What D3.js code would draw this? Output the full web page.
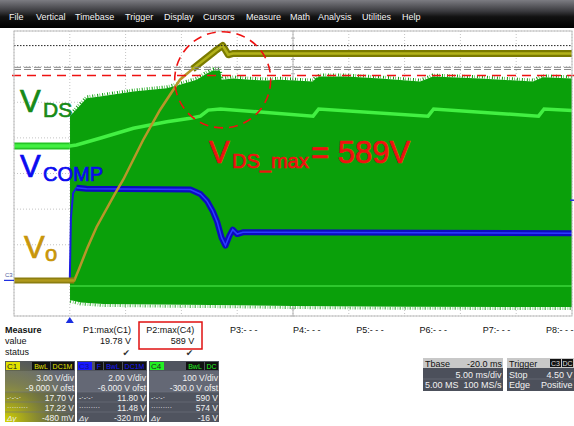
<!DOCTYPE html>
<html>
<head>
<meta charset="utf-8">
<script src="https://cdn.jsdelivr.net/npm/d3@7"></script>
<style>
  body { margin: 0; background: #fff; }
  svg { display: block; font-family: "Liberation Sans", Arial, sans-serif; }
</style>
</head>
<body>
<div id="vis"></div>
<script>
// Scope capture: V_DS (C4), V_COMP (C3), V_o (C1) at start-up

const WIDTH = 574;
const HEIGHT = 426;
const PLOT = {left: 14, right: 572, top: 31, bottom: 316};

// menu bar
const MENU_ITEMS = ["File", "Vertical", "Timebase", "Trigger", "Display", "Cursors",
                    "Measure", "Math", "Analysis", "Utilities", "Help"];
const MENU_X = [9, 36, 75, 125, 164, 203, 246, 290, 318, 362, 402];

// time axis: 5 ms/div, Tbase -20 ms -> screen from -5 ms to 45 ms
const T_DOMAIN = [-5, 45];
const T_GRID = [-5, 0, 5, 10, 15, 20, 25, 30, 35, 40, 45];
const DIV_GRID = [-4, -3, -2, -1, 0, 1, 2, 3, 4];

// channel settings (V/div, offset)
const C1_SET = {vdiv: 3, ofst: -9};
const C3_SET = {vdiv: 2, ofst: -6};
const C4_SET = {vdiv: 100, ofst: -300};

// C1 = V_o  [ms, V]
const C1_TRACE = [[-5, 0], [0.4, 0], [0.8, 0.9], [1.6, 2.8], [2.4, 4.5], [4.05, 7.3],
  [4.8, 8.5], [6.56, 11.8], [8.08, 14.35], [9.87, 16.9], [11.0, 17.8], [11.67, 18.3],
  [13.0, 19.3], [13.7, 19.78], [14.2, 19.0], [14.6, 19.1], [45, 19.1]];

// C3 = V_COMP  [ms, V]
const C3_TRACE = [[-5, 0], [0.0, 0], [0.1, 3.5], [0.3, 4.9], [0.6, 5.2], [1.5, 5.15],
  [10.8, 5.1], [11.7, 4.85], [12.3, 4.45], [12.8, 3.9], [13.2, 3.3], [13.6, 2.4],
  [13.95, 1.95], [14.3, 2.5], [14.6, 2.85], [15.0, 2.6], [15.5, 2.7], [45, 2.65]];

// C4 = V_DS  [ms, V]: envelope of switching waveform + persistence lines
const C4_TOP = [[0.02, 461], [1.51, 511], [2.71, 516], [5.69, 530], [8.68, 539],
  [9.87, 549], [11.37, 563], [12.27, 581], [12.83, 589], [13.46, 589], [13.61, 563],
  [14.65, 567], [16.15, 563], [17.64, 561], [18.84, 563], [21.79, 558], [22.06, 568],
  [22.42, 572], [24.81, 572], [27.8, 567], [31.38, 558], [31.98, 565], [32.54, 572],
  [36.76, 567], [41.51, 558], [42.4, 570], [45, 567]];
const C4_BOTTOM = [[0.02, -55], [1, -62], [3, -66], [8, -68], [15, -70], [20, -72],
  [30, -74], [45, -75]];
const C4_MEAN = [[-5, 377], [0, 377], [0.6, 380], [2.7, 399], [5.7, 427], [8.7, 445],
  [10.8, 455], [11.7, 461], [12.4, 478], [13.5, 481], [21.8, 461], [22.3, 481],
  [32.1, 461], [32.6, 481], [42.0, 461], [42.5, 481], [45, 477]];
const C4_LOW = [[0.02, -16], [45, -16]];

// horizontal cursor / marker lines, in divisions
const CURSOR_DOTTED = [3.59];
const CURSOR_GRAY = [2.98, 2.92];
const CURSOR_RED = [2.75];

// measurement table
const PARAM_NAMES = ["P1:max(C1)", "P2:max(C4)", "P3:- - -", "P4:- - -",
                     "P5:- - -", "P6:- - -", "P7:- - -", "P8:- - -"];
const PARAM_VALUES = ["19.78 V", "589 V", "", "", "", "", "", ""];
const PARAM_STATUS = ["\u2714", "\u2714", "", "", "", "", "", ""];

// channel descriptor boxes
const CHANNELS = [
  {name: "C1", color: "#e2e200", tags: ["BwL", "DC1M"],
   rows: ["3.00 V/div", "-9.000 V ofst", "17.70 V", "17.22 V", "-480 mV"]},
  {name: "C3", color: "#1818ff", tags: ["F", "BwL", "DC1M"],
   rows: ["2.00 V/div", "-6.000 V ofst", "11.80 V", "11.48 V", "-320 mV"]},
  {name: "C4", color: "#22f022", tags: ["BwL", "DC"],
   rows: ["100 V/div", "-300.0 V ofst", "590 V", "574 V", "-16 V"]}
];

// ---------------------------------------------------------------
const SVG = d3.select("#vis")
              .append("svg")
                .attr("width", WIDTH)
                .attr("height", HEIGHT);

const defs = SVG.append("defs");

const X_SCALE = d3.scaleLinear().domain(T_DOMAIN).range([PLOT.left, PLOT.right]);
const Y_SCALE = d3.scaleLinear().domain([-4, 4]).range([PLOT.bottom, PLOT.top]);

// channel volts -> screen
function chY(set) {
  return (v) => Y_SCALE((v + set.ofst) / set.vdiv);
}
const Y_C1 = chY(C1_SET), Y_C3 = chY(C3_SET), Y_C4 = chY(C4_SET);

function lineFor(yf) {
  return d3.line().x((d) => X_SCALE(d[0])).y((d) => yf(d[1]));
}

// ---- menu bar
const mg = defs.append("linearGradient").attr("id", "menuGrad")
  .attr("x1", 0).attr("y1", 0).attr("x2", 0).attr("y2", 1);
mg.append("stop").attr("offset", "0%").attr("stop-color", "#7c7c82");
mg.append("stop").attr("offset", "40%").attr("stop-color", "#3a3a3e");
mg.append("stop").attr("offset", "60%").attr("stop-color", "#121212");
mg.append("stop").attr("offset", "100%").attr("stop-color", "#000");

SVG.append("rect").attr("x", 0).attr("y", 0).attr("width", WIDTH).attr("height", 28)
   .attr("fill", "url(#menuGrad)");

SVG.selectAll(".menu")
   .data(MENU_ITEMS)
   .enter()
   .append("text")
     .attr("x", (d, i) => MENU_X[i])
     .attr("y", 20)
     .attr("fill", "#f4f4f4")
     .attr("font-size", "9px")
     .text((d) => d);

// ---- plot area
defs.append("clipPath").attr("id", "plotClip")
    .append("rect")
      .attr("x", PLOT.left).attr("y", PLOT.top)
      .attr("width", PLOT.right - PLOT.left).attr("height", PLOT.bottom - PLOT.top);

const GRID = SVG.append("g");
GRID.selectAll(".vgrid")
    .data(T_GRID)
    .enter()
    .append("line")
      .attr("x1", (d) => X_SCALE(d)).attr("x2", (d) => X_SCALE(d))
      .attr("y1", PLOT.top).attr("y2", PLOT.bottom)
      .attr("stroke", "#c4c4c4")
      .attr("stroke-dasharray", "1,2");
GRID.selectAll(".hgrid")
    .data(DIV_GRID)
    .enter()
    .append("line")
      .attr("x1", PLOT.left).attr("x2", PLOT.right)
      .attr("y1", (d) => Y_SCALE(d)).attr("y2", (d) => Y_SCALE(d))
      .attr("stroke", "#c4c4c4")
      .attr("stroke-dasharray", "1,2");

// centre axes with minor ticks
const CX = X_SCALE(20);
GRID.append("line").attr("x1", CX).attr("x2", CX).attr("y1", PLOT.top).attr("y2", PLOT.bottom)
    .attr("stroke", "#b4b4b4");
GRID.selectAll(".ytick")
    .data(d3.range(-4, 4.01, 0.2))
    .enter()
    .append("line")
      .attr("x1", CX - 2).attr("x2", CX + 2)
      .attr("y1", (d) => Y_SCALE(d)).attr("y2", (d) => Y_SCALE(d))
      .attr("stroke", "#b4b4b4");

const PLOTG = SVG.append("g").attr("clip-path", "url(#plotClip)");

// ---- C4 switching envelope
const envPts = C4_TOP.concat(C4_BOTTOM.slice().reverse());
PLOTG.append("path")
     .attr("d", lineFor(Y_C4)(envPts) + "Z")
     .attr("fill", "#0aa00a");

// ragged edges of the envelope
PLOTG.append("path")
     .attr("d", lineFor((v) => Y_C4(v) - 1.5)(C4_TOP))
     .attr("fill", "none")
     .attr("stroke", "#0aa00a")
     .attr("stroke-width", 3)
     .attr("stroke-dasharray", "1,1.5,0.5,2");
PLOTG.append("path")
     .attr("d", lineFor((v) => Y_C4(v) + 1.5)(C4_BOTTOM))
     .attr("fill", "none")
     .attr("stroke", "#2aac2a")
     .attr("stroke-width", 3)
     .attr("stroke-dasharray", "1,2,0.5,1.5");

PLOTG.append("path")
     .attr("d", lineFor(Y_C4)(C4_LOW))
     .attr("fill", "none")
     .attr("stroke", "#2ec82e")
     .attr("stroke-width", 2);

PLOTG.append("path")
     .attr("d", lineFor(Y_C4)(C4_MEAN.filter((d) => d[0] <= 0)))
     .attr("fill", "none")
     .attr("stroke", "#26c426")
     .attr("stroke-width", 7);
PLOTG.append("path")
     .attr("d", lineFor(Y_C4)(C4_MEAN))
     .attr("fill", "none")
     .attr("stroke", "#42f042")
     .attr("stroke-width", 3.5);

// ---- C3 trace
PLOTG.append("path")
     .attr("d", lineFor(Y_C3)(C3_TRACE))
     .attr("fill", "none")
     .attr("stroke", "#1a1ae0")
     .attr("stroke-width", 2);
PLOTG.append("path")
     .attr("d", lineFor(Y_C3)(C3_TRACE.filter((d) => d[0] >= 0.5)))
     .attr("fill", "none")
     .attr("stroke", "#0c0cc0")
     .attr("stroke-width", 6)
     .attr("stroke-linejoin", "round");
PLOTG.append("path")
     .attr("d", lineFor(Y_C3)(C3_TRACE.filter((d) => d[0] >= 0.5)))
     .attr("fill", "none")
     .attr("stroke", "#2c3cff")
     .attr("stroke-width", 1.5);

// ---- C1 trace
PLOTG.append("path")
     .attr("d", lineFor(Y_C1)(C1_TRACE))
     .attr("fill", "none")
     .attr("stroke", "#b8962a")
     .attr("stroke-width", 2.5);
[C1_TRACE.filter((d) => d[0] <= 0.4), C1_TRACE.filter((d) => d[0] >= 11)].forEach((seg, i) => {
  PLOTG.append("path")
       .attr("d", lineFor(Y_C1)(seg))
       .attr("fill", "none")
       .attr("stroke", i == 0 ? "#8c7e10" : "#7a7a00")
       .attr("stroke-width", i == 0 ? 6 : 7)
       .attr("stroke-linejoin", "round");
  PLOTG.append("path")
       .attr("d", lineFor(Y_C1)(seg))
       .attr("fill", "none")
       .attr("stroke", i == 0 ? "#b09a1c" : "#b2b21a")
       .attr("stroke-width", 2.5);
});

// ---- cursor lines
SVG.selectAll(".cdot")
   .data(CURSOR_DOTTED)
   .enter()
   .append("line")
     .attr("x1", PLOT.left).attr("x2", PLOT.right)
     .attr("y1", (d) => Y_SCALE(d)).attr("y2", (d) => Y_SCALE(d))
     .attr("stroke", "#222")
     .attr("stroke-dasharray", "1.5,1.5");
SVG.selectAll(".cgray")
   .data(CURSOR_GRAY)
   .enter()
   .append("line")
     .attr("x1", PLOT.left).attr("x2", PLOT.right)
     .attr("y1", (d) => Y_SCALE(d)).attr("y2", (d) => Y_SCALE(d))
     .attr("stroke", "#888")
     .attr("stroke-dasharray", "7,3");
SVG.selectAll(".cred")
   .data(CURSOR_RED)
   .enter()
   .append("line")
     .attr("x1", PLOT.left - 2).attr("x2", WIDTH)
     .attr("y1", (d) => Y_SCALE(d)).attr("y2", (d) => Y_SCALE(d))
     .attr("stroke", "#ee1111")
     .attr("stroke-width", 1.5)
     .attr("stroke-dasharray", "9,6");

// plot border
SVG.append("rect")
   .attr("x", PLOT.left).attr("y", PLOT.top)
   .attr("width", PLOT.right - PLOT.left).attr("height", PLOT.bottom - PLOT.top)
   .attr("fill", "none")
   .attr("stroke", "#bdbdbd");

// trigger marker, trigger level and C3 ground marker
const TX = X_SCALE(0);
SVG.append("path")
   .attr("d", `M${TX},${PLOT.bottom + 1} L${TX - 4},${PLOT.bottom + 7} L${TX + 4},${PLOT.bottom + 7}Z`)
   .attr("fill", "#1a2ee0");
SVG.append("line")
   .attr("x1", PLOT.right - 2).attr("x2", WIDTH)
   .attr("y1", Y_C3(4.5)).attr("y2", Y_C3(4.5))
   .attr("stroke", "#2030e0").attr("stroke-width", 1.5);
SVG.append("text")
   .attr("x", 5).attr("y", Y_C3(0) - 3)
   .attr("font-size", "6px").attr("fill", "#5060a0")
   .text("C3");
SVG.append("line")
   .attr("x1", 4).attr("x2", PLOT.left)
   .attr("y1", Y_C3(0)).attr("y2", Y_C3(0))
   .attr("stroke", "#2030e0").attr("stroke-width", 1.2);

// ---- annotation circle around the V_DS peak
SVG.append("ellipse")
   .attr("cx", X_SCALE(13.7)).attr("cy", Y_SCALE(2.63))
   .attr("rx", X_SCALE(13.7 + 4.3) - X_SCALE(13.7))
   .attr("ry", Y_SCALE(0) - Y_SCALE(1.35))
   .attr("fill", "none")
   .attr("stroke", "#ee1111")
   .attr("stroke-width", 1.6)
   .attr("stroke-dasharray", "9,6");

// ---- signal labels (slightly heavier than regular weight)
function label(x, y, size, color, txt) {
  SVG.append("text").attr("x", x).attr("y", y)
     .attr("font-size", size + "px").attr("fill", color)
     .attr("stroke", color).attr("stroke-width", 0.7)
     .text(txt);
}
label(20, 112, 31, "#178a17", "V");
label(43, 117, 21, "#178a17", "DS");
label(20, 177, 31, "#0a0af0", "V");
label(43, 181, 20, "#0a0af0", "COMP");
label(24, 258, 31, "#c8960a", "V");
label(45, 261, 22, "#c8960a", "o");
label(209, 163, 31, "#f01010", "V");
label(232, 168, 20, "#f01010", "DS_max");
label(311, 163, 31, "#f01010", "= 589V");

// ---- measure table
SVG.append("text").attr("x", 5).attr("y", 333).attr("font-size", "9px")
   .attr("font-weight", "bold").attr("fill", "#111").text("Measure");
SVG.append("text").attr("x", 5).attr("y", 344).attr("font-size", "9px")
   .attr("fill", "#111").text("value");
SVG.append("text").attr("x", 5).attr("y", 355).attr("font-size", "9px")
   .attr("fill", "#111").text("status");

const COL_RIGHT = (i) => 131 + i * 63.2;
SVG.selectAll(".pname")
   .data(PARAM_NAMES)
   .enter()
   .append("text")
     .attr("x", (d, i) => COL_RIGHT(i)).attr("y", 333)
     .attr("text-anchor", "end").attr("font-size", "9px").attr("fill", "#111")
     .text((d) => d);
SVG.selectAll(".pval")
   .data(PARAM_VALUES)
   .enter()
   .append("text")
     .attr("x", (d, i) => COL_RIGHT(i)).attr("y", 344)
     .attr("text-anchor", "end").attr("font-size", "9px").attr("fill", "#111")
     .text((d) => d);
SVG.selectAll(".pstat")
   .data(PARAM_STATUS)
   .enter()
   .append("text")
     .attr("x", (d, i) => COL_RIGHT(i) - 1).attr("y", 356)
     .attr("text-anchor", "end").attr("font-size", "9px").attr("fill", "#333")
     .attr("font-family", "DejaVu Sans")
     .text((d) => d);
SVG.append("rect")
   .attr("x", 139).attr("y", 322).attr("width", 63).attr("height", 27)
   .attr("fill", "none").attr("stroke", "#e01010").attr("stroke-width", 1.5);

// ---- channel descriptor boxes
const yg = defs.append("radialGradient").attr("id", "c1Glow")
  .attr("cx", "0%").attr("cy", "100%").attr("r", "110%");
yg.append("stop").attr("offset", "0%").attr("stop-color", "#d6d600").attr("stop-opacity", 1);
yg.append("stop").attr("offset", "60%").attr("stop-color", "#a8a810").attr("stop-opacity", 0.35);
yg.append("stop").attr("offset", "100%").attr("stop-color", "#a8a810").attr("stop-opacity", 0);

const BOX = {y: 361, w: 70, h: 61};
CHANNELS.forEach((ch, k) => {
  const x0 = 5 + k * 72;
  const g = SVG.append("g").attr("transform", `translate(${x0},${BOX.y})`);
  g.append("rect").attr("width", BOX.w).attr("height", BOX.h).attr("fill", "#50545f");
  g.append("rect").attr("y", 10).attr("width", BOX.w).attr("height", 21).attr("fill", "#646875");
  if (k == 0) {
    g.append("rect").attr("width", BOX.w).attr("height", BOX.h).attr("fill", "url(#c1Glow)");
  }
  [31, 41, 51].forEach((yy) => {
    g.append("line").attr("x1", 0).attr("x2", BOX.w).attr("y1", yy).attr("y2", yy)
     .attr("stroke", "#6e7280").attr("stroke-width", 0.6);
  });
  // header
  g.append("rect").attr("x", 1).attr("y", 1).attr("width", 14).attr("height", 8)
   .attr("fill", ch.color);
  g.append("text").attr("x", 2).attr("y", 8).attr("font-size", "8px")
   .attr("fill", k == 1 ? "#10108a" : "#222").text(ch.name);
  let right = BOX.w - 1;
  ch.tags.slice().reverse().forEach((t) => {
    const w = t.length * 5 + 3;
    g.append("rect").attr("x", right - w).attr("y", 1).attr("width", w).attr("height", 8)
     .attr("fill", "#111");
    g.append("text").attr("x", right - w / 2).attr("y", 8).attr("font-size", "7px")
     .attr("text-anchor", "middle").attr("fill", ch.color).text(t);
    right -= w + 1;
  });
  // rows
  const baselines = [19.5, 29.5, 40, 50, 60];
  ch.rows.forEach((r, i) => {
    g.append("text").attr("x", BOX.w - 1).attr("y", baselines[i])
     .attr("text-anchor", "end").attr("font-size", "8.5px").attr("fill", "#f2f2f2")
     .text(r);
  });
  g.append("text").attr("x", 2).attr("y", 39).attr("font-size", "7px").attr("fill", "#eee")
   .text("-·-·-·");
  g.append("text").attr("x", 2).attr("y", 49).attr("font-size", "7px").attr("fill", "#eee")
   .text("·········");
  g.append("text").attr("x", 2).attr("y", 59.5).attr("font-size", "8px").attr("fill", "#eee")
   .attr("font-style", "italic").text("\u0394y");
});

// ---- timebase / trigger boxes
function infoBox(x0, w, head, headRight, rows, tags) {
  const g = SVG.append("g").attr("transform", `translate(${x0},358)`);
  g.append("rect").attr("width", w).attr("height", 33).attr("fill", "#4c505b");
  g.append("rect").attr("width", w).attr("height", 10).attr("fill", "#c8c8c8");
  g.append("line").attr("x1", 0).attr("x2", w).attr("y1", 21).attr("y2", 21)
   .attr("stroke", "#6e7280").attr("stroke-width", 0.6);
  g.append("text").attr("x", 2).attr("y", 8.5).attr("font-size", "9px").attr("fill", "#111").text(head);
  if (headRight) {
    g.append("text").attr("x", w - 1).attr("y", 8.5).attr("font-size", "9px")
     .attr("text-anchor", "end").attr("fill", "#111").text(headRight);
  }
  if (tags) {
    let xx = w - 24;
    tags.forEach((t) => {
      g.append("rect").attr("x", xx).attr("y", 1).attr("width", 11).attr("height", 8).attr("fill", "#111");
      g.append("text").attr("x", xx + 5.5).attr("y", 8).attr("font-size", "7px")
       .attr("text-anchor", "middle").attr("fill", "#ddd").text(t);
      xx += 12;
    });
  }
  rows.forEach((r, i) => {
    if (r[0]) {
      g.append("text").attr("x", 2).attr("y", 19.5 + i * 10.5).attr("font-size", "9px")
       .attr("fill", "#f2f2f2").text(r[0]);
    }
    g.append("text").attr("x", w - 1.5).attr("y", 19.5 + i * 10.5).attr("font-size", "9px")
     .attr("text-anchor", "end").attr("fill", "#f2f2f2").text(r[1]);
  });
}
infoBox(423, 80, "Tbase", "-20.0 ms", [["", "5.00 ms/div"], ["5.00 MS", "100 MS/s"]]);
infoBox(507, 67, "Trigger", null, [["Stop", "4.50 V"], ["Edge", "Positive"]], ["C3", "DC"]);
</script>
</body>
</html>
